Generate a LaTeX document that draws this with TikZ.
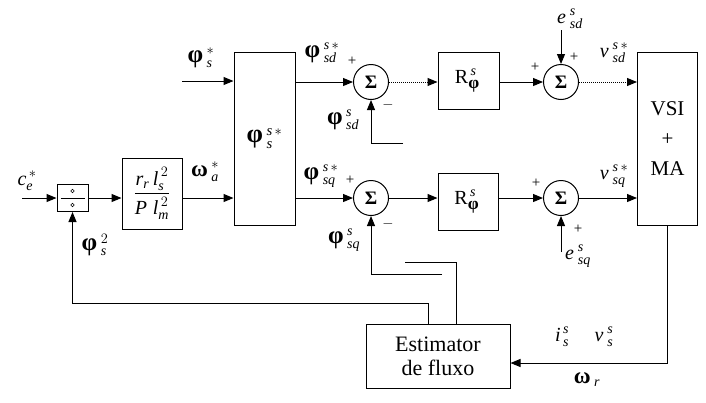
\documentclass[tikz,border=0pt]{standalone}
\usepackage{fontspec}
\setmainfont{Liberation Serif}
\usepackage{amsmath}
\usepackage{graphicx}
\usetikzlibrary{arrows.meta}
\newcommand{\mi}[1]{\text{\itshape #1}}
\newcommand{\fphi}{\text{\upshape\bfseries\scalebox{1.25}{φ}}\,}
\newcommand{\fomega}{\text{\upshape\bfseries\scalebox{1.15}{ω}}\,}
\begin{document}
\begin{tikzpicture}[x=1pt,y=-1pt,
  blk/.style={draw, line width=1pt, inner sep=0pt},
  sumnode/.style={draw, circle, minimum size=35pt, inner sep=0pt, line width=1pt, font=\bfseries\fontsize{19}{19}\selectfont},
  arr/.style={-{Triangle[length=10pt,width=8pt]}, line width=1pt},
  darr/.style={arr, densely dotted},
  ln/.style={line width=1pt},
  lbl/.style={font=\fontsize{20}{22}\selectfont, inner sep=0pt},
  sgn/.style={font=\fontsize{15}{15}\selectfont, inner sep=0pt}]
\useasboundingbox (0,0) rectangle (706,402);

% rows
\coordinate (rowd) at (0,82);
\coordinate (rowq) at (0,198);

% blocks
\node[blk, minimum width=31pt, minimum height=27pt] (div) at (72.5,198) {};
\draw[line width=0.7pt] ([xshift=4pt]div.west) -- ([xshift=-4pt]div.east);
\node[draw, circle, minimum size=3.5pt, inner sep=0pt, line width=0.6pt] (dt) at (72.5,191) {};
\node[draw, circle, minimum size=3.5pt, inner sep=0pt, line width=0.6pt] (db) at (72.5,205) {};

\node[blk, minimum width=60pt, minimum height=71pt, font=\fontsize{20}{22}\selectfont] (gain) at (152,193.5)
  {$\dfrac{\mi{r}_{\mi{r}}\,\mi{l}^{\,2}_{\mi{s}}}{\mi{P}\;\mi{l}^{\,2}_{\mi{m}}}$};
\node[blk, minimum width=61pt, minimum height=173pt, font=\fontsize{21}{23}\selectfont] (big) at (264.5,138.5)
  {$\fphi^{\mi{s}\,\ast}_{\mi{s}}$};
\node[blk, minimum width=61pt, minimum height=57pt, font=\fontsize{20}{22}\selectfont] (Rd) at (468.5,80.5)
  {$\text{R}^{\,\mi{s}}_{\fphi}$};
\node[blk, minimum width=60pt, minimum height=57pt, font=\fontsize{20}{22}\selectfont] (Rq) at (468,201.5)
  {$\text{R}^{\,\mi{s}}_{\fphi}$};
\node[blk, minimum width=60pt, minimum height=173pt] (vsi) at (667.5,138.5) {};
\node[font=\fontsize{21}{30}\selectfont, align=center, inner sep=0pt] (vsitxt) at (vsi.center) {VSI\\+\\MA};
\node[blk, minimum width=144pt, minimum height=64pt, align=center, font=\fontsize{22}{24}\selectfont] (est) at (438,356)
  {Estimator\\de fluxo};

% summing junctions
\node[sumnode] (sd) at (371,82) {Σ};
\node[sumnode] (sq) at (371,198) {Σ};
\node[sumnode] (s2d) at (561,82) {Σ};
\node[sumnode] (s2q) at (561,198) {Σ};

% free ends
\coordinate (cin) at (22,198);
\coordinate (phin) at (182,81);
\coordinate (esd) at (561,30);
\coordinate (esq) at (561,252);
\coordinate (fbd) at (403,143);
\coordinate (fbq) at (442,274);
\coordinate (e1) at (405,262);
\coordinate (e1a) at (456,262);
\coordinate (e2) at (428,303);
\coordinate (vc) at (667,363);

% connectors
\draw[arr] (cin) -- (div.west);
\draw[arr] (div.east) -- (div.east -| gain.west);
\draw[arr] (gain.east |- rowq) -- (big.west |- rowq);
\draw[arr] (phin) -- (phin -| big.west);
\draw[arr] (big.east |- sd) -- (sd.west);
\draw[arr] (big.east |- sq) -- (sq.west);
\draw[darr] (sd.east) -- (sd -| Rd.west);
\draw[arr] (sq.east) -- (sq -| Rq.west);
\draw[arr] (Rd.east |- s2d) -- (s2d.west);
\draw[arr] (Rq.east |- s2q) -- (s2q.west);
\draw[darr] (s2d.east) -- (s2d -| vsi.west);
\draw[arr] (s2q.east) -- (s2q -| vsi.west);
\draw[arr] (esd) -- (s2d.north);
\draw[arr] (esq) -- (s2q.south);
\draw[arr] (fbd) -- (fbd -| sd) -- (sd.south);
\draw[arr] (fbq) -- (fbq -| sq) -- (sq.south);
\draw[ln] (e1) -- (e1a) -- (e1a |- est.north);
\draw[arr] (e2 |- est.north) -- (e2) -- (e2 -| div) -- (div.south);
\draw[arr] (vsi.south -| vc) -- (vc) -- (vc -| est.east);

% labels
\node[lbl] (lce) at (27,181) {$\mi{c}^{\,\ast}_{\mi{e}}$};
\node[lbl] (lphi2) at (95,245) {$\fphi^{2}_{\mi{s}}$};
\node[lbl] (lwa) at (205,172) {$\fomega^{\ast}_{\mi{a}}$};
\node[lbl] (lphis) at (201,58) {$\fphi^{\ast}_{\mi{s}}$};
\node[lbl] (lsdr) at (322,53) {$\fphi^{\mi{s}\,\ast}_{\mi{sd}}$};
\node[lbl] (lsd) at (343,120) {$\fphi^{\mi{s}}_{\mi{sd}}$};
\node[lbl] (lsqr) at (321,176) {$\fphi^{\mi{s}\,\ast}_{\mi{sq}}$};
\node[lbl] (lsq) at (344,240) {$\fphi^{\mi{s}}_{\mi{sq}}$};
\node[lbl] (lesd) at (570,19) {$\mi{e}^{\;\mi{s}}_{\;\mi{sd}}$};
\node[lbl] (lesq) at (578,256) {$\mi{e}^{\;\mi{s}}_{\;\mi{sq}}$};
\node[lbl] (lvsd) at (614,53) {$\mi{v}^{\;\mi{s}\,\ast}_{\;\mi{sd}}$};
\node[lbl] (lvsq) at (614,176) {$\mi{v}^{\;\mi{s}\,\ast}_{\;\mi{sq}}$};
\node[lbl] (lis) at (562,337) {$\mi{i}^{\,\mi{s}}_{\,\mi{s}}$};
\node[lbl] (lvs) at (604,337) {$\mi{v}^{\;\mi{s}}_{\;\mi{s}}$};
\node[lbl] (lwr) at (587,380) {$\fomega_{\mi{r}}$};

% signs
\node[sgn] (p1) at (352,61) {+};
\node[sgn] (m1) at (388,105) {$-$};
\node[sgn] (p2) at (350,180) {+};
\node[sgn] (m2) at (388,224) {$-$};
\node[sgn] (p3) at (535,67) {+};
\node[sgn] (p4) at (574,57) {+};
\node[sgn] (p5) at (536,183) {+};
\node[sgn] (p6) at (578,229) {+};
\end{tikzpicture}
\end{document}
